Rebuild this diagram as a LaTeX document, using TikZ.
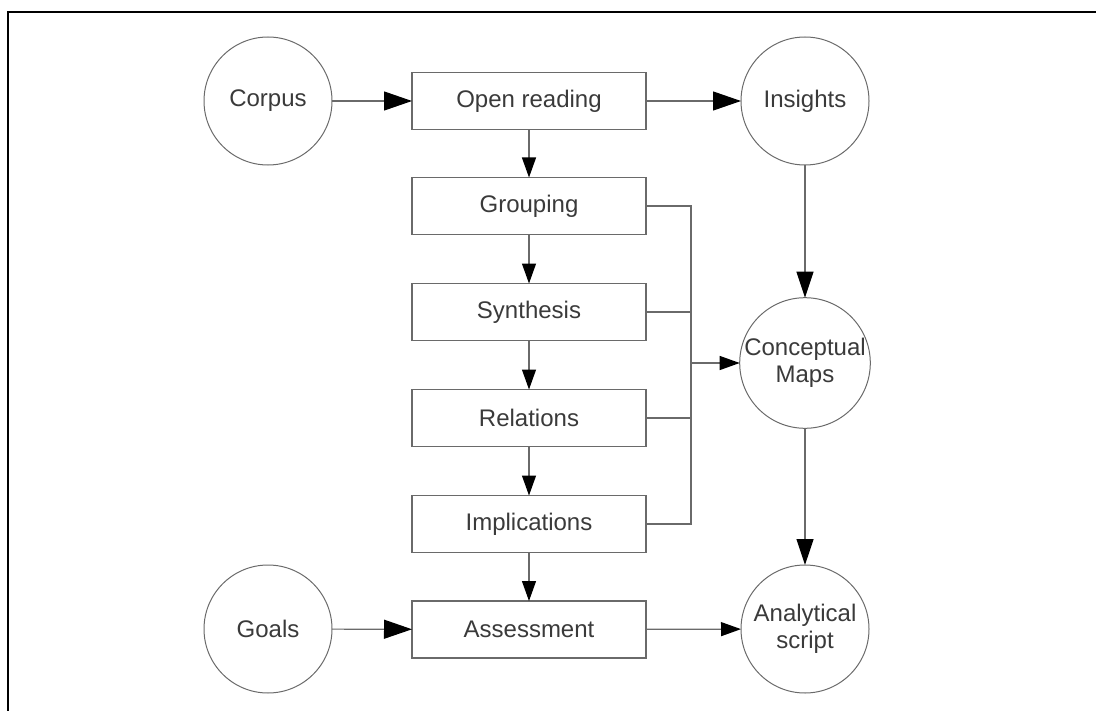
\documentclass[tikz,border=0pt]{standalone}
\usepackage{fontspec}
\setmainfont{Liberation Sans}
\usetikzlibrary{arrows.meta}
\definecolor{inkgray}{HTML}{3A3A3A}
\definecolor{linegray}{HTML}{6A6A6A}
\begin{document}
\begin{tikzpicture}[x=1bp,y=-1bp,
  every node/.style={inner sep=0pt,outer sep=0pt,text=inkgray,
    font=\fontsize{24bp}{27bp}\selectfont,align=center},
  stepbox/.style={draw=linegray,line width=1.2bp,rectangle,
    minimum width=234bp,minimum height=57bp},
  roundnode/.style={draw=linegray,line width=1bp,circle,minimum size=128bp},
  link/.style={draw=linegray,line width=1.2bp},
  flow/.style={link,-{Triangle[length=20bp,width=14bp,black]}},
  bigflow/.style={link,-{Triangle[length=28bp,width=19bp,black]}},
  midflow/.style={link,-{Triangle[length=26bp,width=17bp,black]}}]
  \useasboundingbox (0,0) rectangle (1096,711);
  % frame
  \draw[line width=2bp,black] (8,730) -- (8,12) -- (1110,12);

  % process steps
  \node[stepbox] (open) at (529,101) {Open reading};
  \node[stepbox] (group) at (529,206) {Grouping};
  \node[stepbox] (synth) at (529,312) {Synthesis};
  \node[stepbox] (rel) at (529,418) {Relations};
  \node[stepbox] (impl) at (529,524) {Implications};
  \node[stepbox] (assess) at (529,629.5) {Assessment};

  % inputs and outputs
  \node[roundnode] (corpus) at (268,101) {Corpus};
  \node[roundnode] (goals) at (268,629) {Goals};
  \node[roundnode] (insights) at (805,101) {Insights};
  \node[roundnode] (maps) at (805,363) {Conceptual\\Maps};
  \node[roundnode] (script) at (805,629) {Analytical\\script};

  % main flow
  \draw[bigflow] (corpus) -- (open);
  \draw[bigflow] (open) -- (insights);
  \draw[flow] (open) -- (group);
  \draw[flow] (group) -- (synth);
  \draw[flow] (synth) -- (rel);
  \draw[flow] (rel) -- (impl);
  \draw[flow] (impl) -- (assess);
  \draw[bigflow] (goals) -- (assess);
  \draw[flow] (assess) -- (script);
  \draw[midflow] (insights) -- (maps);
  \draw[midflow] (maps) -- (script);

  % collector bus into the conceptual maps
  \coordinate (bus) at (691,363);
  \draw[link] (group.east) -| (bus);
  \draw[link] (synth.east) -| (bus);
  \draw[link] (rel.east) -| (bus);
  \draw[link] (impl.east) -| (bus);
  \draw[flow] (bus) -- (maps.west);
\end{tikzpicture}
\end{document}
